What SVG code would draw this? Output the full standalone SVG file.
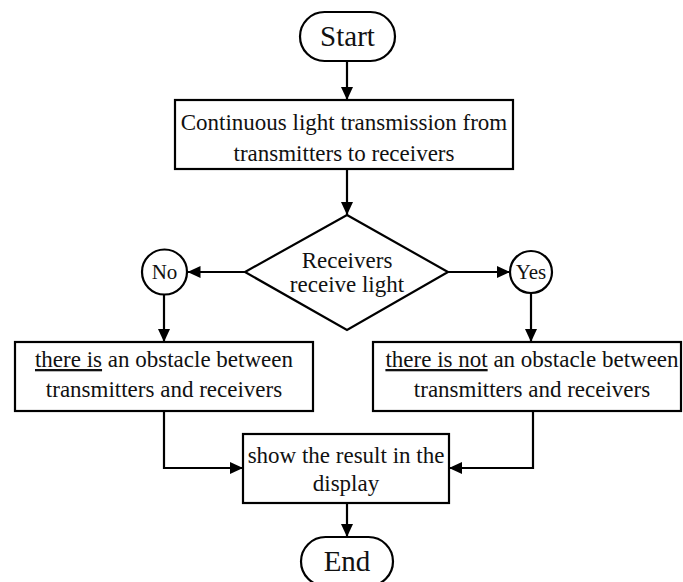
<svg xmlns="http://www.w3.org/2000/svg" width="683" height="582" viewBox="0 0 683 582">
<defs>
<style>
.s{fill:#fff;stroke:#000;stroke-width:2.2}
.t{font-family:"Liberation Serif","Times New Roman",serif;font-size:23px;fill:#111;text-anchor:middle}
.big{font-size:29px}
.sm{font-size:21px}
.c{fill:none;stroke:#000;stroke-width:2.2}
</style>
<marker id="ah" markerUnits="userSpaceOnUse" markerWidth="14" markerHeight="12" refX="13" refY="6" orient="auto">
<path d="M0,0 L13,6 L0,12 Z" fill="#000"/>
</marker>
</defs>
<rect width="683" height="582" fill="#fff"/>
<g id="connectors">
<line class="c" x1="347" y1="61" x2="347" y2="100" marker-end="url(#ah)"/>
<line class="c" x1="347" y1="169" x2="347" y2="215" marker-end="url(#ah)"/>
<line class="c" x1="245" y1="272" x2="187.5" y2="272" marker-end="url(#ah)"/>
<line class="c" x1="448" y1="272" x2="510" y2="272" marker-end="url(#ah)"/>
<line class="c" x1="164" y1="294" x2="164" y2="342" marker-end="url(#ah)"/>
<line class="c" x1="531" y1="293" x2="531" y2="342" marker-end="url(#ah)"/>
<polyline class="c" points="164,411 164,468 243,468" marker-end="url(#ah)"/>
<polyline class="c" points="533,411 533,468 449,468" marker-end="url(#ah)"/>
<line class="c" x1="347" y1="503" x2="347" y2="537" marker-end="url(#ah)"/>
</g>
<g id="start">
<rect class="s" x="300" y="12" width="95" height="49" rx="24.5"/>
<text class="t big" x="347.5" y="46">Start</text>
</g>
<g id="transmit">
<rect class="s" x="175" y="100" width="338" height="69"/>
<text class="t" x="344" y="130">Continuous light transmission from</text>
<text class="t" x="344" y="161">transmitters to receivers</text>
</g>
<g id="decision">
<polygon class="s" points="347,215 448,272 347,330 245,272"/>
<text class="t" x="347" y="268">Receivers</text>
<text class="t" x="347" y="292">receive light</text>
</g>
<g id="no">
<circle class="s" cx="164.5" cy="272" r="22.5"/>
<text class="t sm" x="164.5" y="279">No</text>
</g>
<g id="yes">
<circle class="s" cx="531" cy="272" r="21"/>
<text class="t sm" x="531" y="279">Yes</text>
</g>
<g id="obstacle">
<rect class="s" x="15" y="342" width="298" height="69"/>
<text class="t" x="164" y="367"><tspan text-decoration="underline">there is</tspan> an obstacle between</text>
<text class="t" x="164" y="397">transmitters and receivers</text>
</g>
<g id="noobstacle">
<rect class="s" x="373" y="342" width="308" height="69"/>
<text class="t" x="532" y="367"><tspan text-decoration="underline">there is not</tspan> an obstacle between</text>
<text class="t" x="532" y="397">transmitters and receivers</text>
</g>
<g id="display">
<rect class="s" x="243" y="434" width="206" height="69"/>
<text class="t" x="346" y="463">show the result in the</text>
<text class="t" x="346" y="491">display</text>
</g>
<g id="end">
<rect class="s" x="301" y="537" width="92" height="49" rx="24.5"/>
<text class="t big" x="347" y="571">End</text>
</g>
</svg>
